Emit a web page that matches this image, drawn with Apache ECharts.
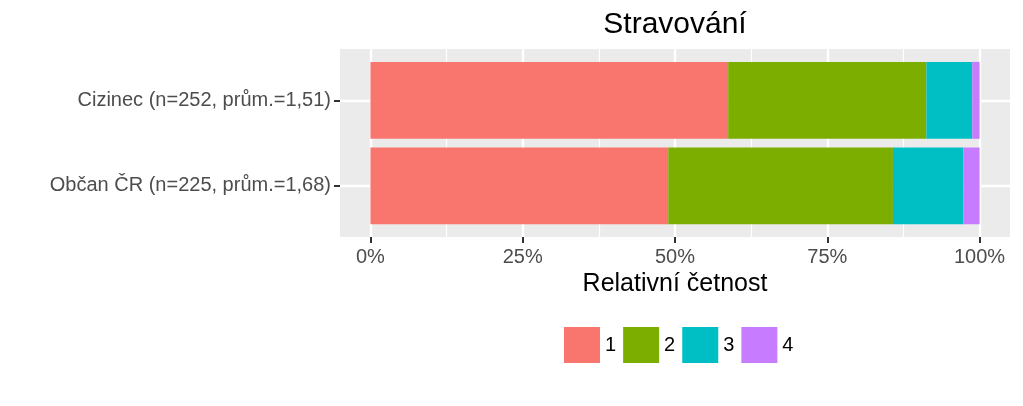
<!DOCTYPE html>
<html>
<head>
<meta charset="utf-8">
<script src="https://cdn.jsdelivr.net/npm/echarts@6/dist/echarts.min.js"></script>
<style>
  html, body { margin: 0; padding: 0; background: #fff; }
  #chart { width: 1023px; height: 406px; }
</style>
</head>
<body>
<div id="chart"></div>
<script>
// skupiny (shora dolu)
const categories = ['Cizinec (n=252, prům.=1,51)', 'Občan ČR (n=225, prům.=1,68)']
// podily odpovedi 1-4
const share1 = [0.5873, 0.4889]
const share2 = [0.3254, 0.3689]
const share3 = [0.0754, 0.1156]
const share4 = [0.0119, 0.0266]
const levels = ['1', '2', '3', '4']
const colors = ['#F8766D', '#7CAE00', '#00BFC4', '#C77CFF']
const majorTicks = [0, 0.25, 0.5, 0.75, 1]
const minorTicks = [0.125, 0.375, 0.625, 0.875]

const font = 'Liberation Sans, Arial, sans-serif'
const chart = echarts.init(document.getElementById('chart'))

const option = {
  animation: false,
  textStyle: { fontFamily: font },
  title: {
    text: 'Stravování',
    left: 675,
    textAlign: 'center',
    top: 10,
    padding: 0,
    textStyle: { fontSize: 30, fontWeight: 'normal', color: '#000', fontFamily: font }
  },
  legend: {
    data: levels,
    left: 564,
    top: 327,
    padding: 0,
    itemWidth: 36,
    itemHeight: 36,
    itemGap: 7,
    icon: 'rect',
    textStyle: { fontSize: 20, color: '#000', fontFamily: font }
  },
  grid: [
    // panel (sede pozadi + mrizka)
    { left: 340, top: 49, width: 670, height: 188, show: true, backgroundColor: '#EBEBEB', borderWidth: 0 },
    // sloupce
    { left: 370.45, top: 57.6, width: 609.1, height: 171 }
  ],
  xAxis: [
    {
      gridIndex: 0, type: 'value', min: -0.05, max: 1.05,
      axisLine: { show: false, onZero: false },
      axisTick: { show: true, customValues: majorTicks, length: 6, lineStyle: { color: '#333', width: 2 } },
      axisLabel: {
        customValues: majorTicks, margin: 10, fontSize: 20, color: '#4D4D4D', fontFamily: font,
        formatter: v => Math.round(v * 100) + '%'
      },
      splitLine: { show: true, lineStyle: { color: '#fff', width: 2.4 } },
      name: 'Relativní četnost',
      nameLocation: 'middle',
      nameGap: 35,
      nameTextStyle: { fontSize: 25, color: '#000', fontFamily: font }
    },
    {
      gridIndex: 0, type: 'value', min: -0.05, max: 1.05,
      axisLine: { show: false, onZero: false },
      axisTick: { show: false, customValues: minorTicks },
      axisLabel: { show: false, customValues: minorTicks },
      splitLine: { show: true, lineStyle: { color: '#fff', width: 1.2 } }
    },
    { gridIndex: 1, type: 'value', min: 0, max: 1, show: false }
  ],
  yAxis: [
    {
      gridIndex: 0, type: 'value', min: 0.4, max: 2.6, inverse: true,
      axisLine: { show: false, onZero: false },
      axisTick: { show: true, customValues: [1, 2], length: 6, lineStyle: { color: '#333', width: 2 } },
      axisLabel: {
        customValues: [1, 2], margin: 9, fontSize: 20, color: '#4D4D4D', fontFamily: font,
        formatter: v => categories[v - 1] || ''
      },
      splitLine: { show: true, lineStyle: { color: '#fff', width: 2.4 } }
    },
    { gridIndex: 1, type: 'category', data: categories, inverse: true, show: false }
  ],
  series: [share1, share2, share3, share4].map((d, i) => ({
    name: levels[i],
    type: 'bar',
    stack: 'all',
    xAxisIndex: 2,
    yAxisIndex: 1,
    barWidth: '90%',
    itemStyle: { color: colors[i] },
    data: d
  }))
}

chart.setOption(option)
window.onresize = function () {
  chart.resize()
}
</script>
</body>
</html>
